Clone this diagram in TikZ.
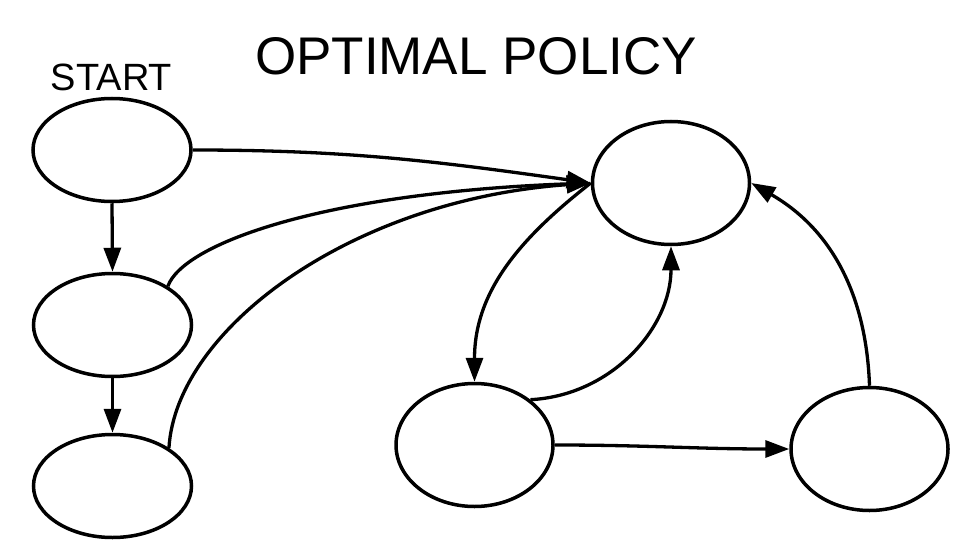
\documentclass[tikz,border=0pt]{standalone}
\usepackage{fontspec}
\setmainfont{Liberation Sans}
\usetikzlibrary{shapes.geometric,arrows.meta}
\tikzset{
  stsmall/.style={ellipse,draw,line width=3.5pt,inner sep=0pt,minimum width=158pt,minimum height=103pt},
  stbig/.style={ellipse,draw,line width=3.5pt,inner sep=0pt,minimum width=157pt,minimum height=123pt},
  conn/.style={line width=3.3pt,-{Triangle[length=24pt,width=17pt]}},
}
\begin{document}
\begin{tikzpicture}[x=1pt,y=-1pt]
\useasboundingbox (0,0) rectangle (960,540);
\node[anchor=base,inner sep=0pt] (title) at (476,75) {\fontsize{53}{60}\selectfont OPTIMAL POLICY};
\node[anchor=base,inner sep=0pt] (start) at (111.5,91) {\fontsize{38}{44}\selectfont START};
\node[stsmall] (A) at (112,150) {};
\node[stsmall] (B) at (112.5,325) {};
\node[stsmall] (C) at (112.5,486) {};
\node[stbig] (D) at (671,183) {};
\node[stbig] (E) at (474.5,445) {};
\node[stbig] (F) at (869.5,449) {};
\draw[conn] (A.south) -- (B.north);
\draw[conn] (B.south) -- (C.north);
\draw[conn] (A.east) to[out=0,in=172] (D.west);
\draw[conn] (B.35) .. controls +(15,-42) and +(-270,10) .. (D.west);
\draw[conn] (C.34) .. controls +(7,-118) and +(-241,17) .. (D.west);
\draw[conn] (D.west) to[out=218,in=90] (E.north);
\draw[conn] (E.39) to[out=3,in=-90] (D.south);
\draw[conn] (E.east) to[out=0,in=180] (F.west);
\draw[conn] (F.north) to[out=92,in=-30] (D.east);
\end{tikzpicture}
\end{document}
